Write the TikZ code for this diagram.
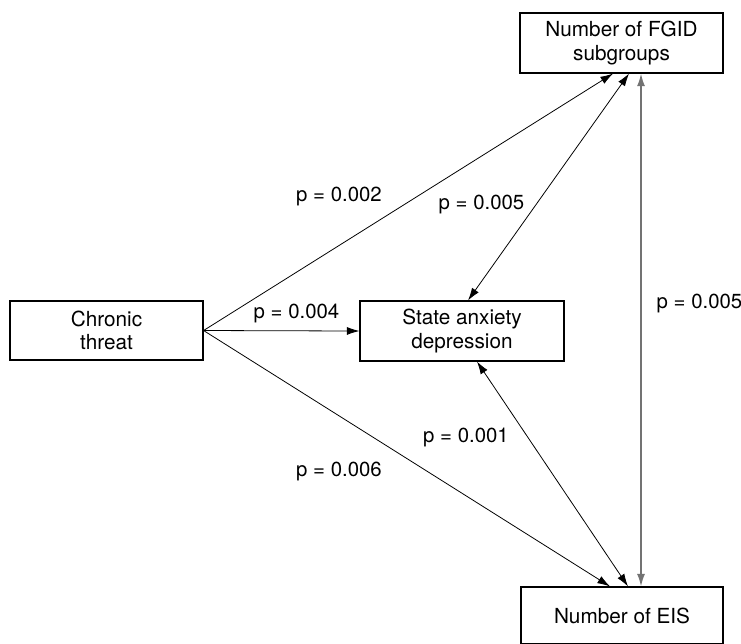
\documentclass[tikz,border=0pt]{standalone}
\usepackage{fontspec}
\setmainfont{TeX Gyre Heros}
\usepackage{tikz}
\usetikzlibrary{arrows.meta}

\tikzset{
  kasten/.style={draw, line width=0.65pt, align=center, inner sep=0pt,
    font=\fontsize{11.8pt}{13.2pt}\selectfont},
  pfeil/.style={-{Latex[length=7.2pt,width=4.6pt]}, line width=0.45pt},
  doppel/.style={{Latex[length=7.2pt,width=4.6pt]}-{Latex[length=7.2pt,width=4.6pt]}, line width=0.45pt},
  wert/.style={font=\fontsize{11.6pt}{13.2pt}\selectfont, inner sep=0pt}
}

\begin{document}
\begin{tikzpicture}
\useasboundingbox (0,0) rectangle (14.82,-12.86);

%Kaesten
\node[kasten, minimum width=4.06cm, minimum height=1.2cm]  (fgid)    at (12.43,-0.86) {Number of FGID\\subgroups};
\node[kasten, minimum width=3.86cm, minimum height=1.18cm] (chronic) at (2.13,-6.61)  {Chronic\\threat};
\node[kasten, minimum width=4.08cm, minimum height=1.2cm]  (state)   at (9.24,-6.62)  {State anxiety\\depression};
\node[kasten, minimum width=4.04cm, minimum height=1.14cm] (eis)     at (12.44,-12.31) {Number of EIS};

%Ankerpunkte an den Kaesten
\coordinate (f1) at ([xshift=-0.17cm]fgid.south);
\coordinate (f2) at ([xshift=0.15cm]fgid.south);
\coordinate (f3) at ([xshift=0.39cm]fgid.south);
\coordinate (e1) at ([xshift=-0.24cm]eis.north);
\coordinate (e2) at ([xshift=0.12cm]eis.north);
\coordinate (e3) at ([xshift=0.38cm]eis.north);
\coordinate (s1) at ([xshift=0.12cm]state.north);
\coordinate (s2) at ([xshift=0.3cm]state.south);

\draw[pfeil] (chronic.east) -- (f1);
\draw[pfeil] (chronic.east) -- (state.west);
\draw[pfeil] (chronic.east) -- (e1);
\draw[doppel] (s1) -- (f2);
\draw[doppel] (s2) -- (e2);
\draw[doppel, line width=0.9pt, draw=black!55] (f3) -- (e3);

%Beschriftung
\node[wert] (p1) at (6.78,-3.93) {p = 0.002};
\node[wert] (p2) at (9.63,-4.08) {p = 0.005};
\node[wert] (p3) at (5.93,-6.27) {p = 0.004};
\node[wert] (p4) at (13.99,-6.06) {p = 0.005};
\node[wert] (p5) at (9.32,-8.74) {p = 0.001};
\node[wert] (p6) at (6.78,-9.42) {p = 0.006};
\end{tikzpicture}
\end{document}
